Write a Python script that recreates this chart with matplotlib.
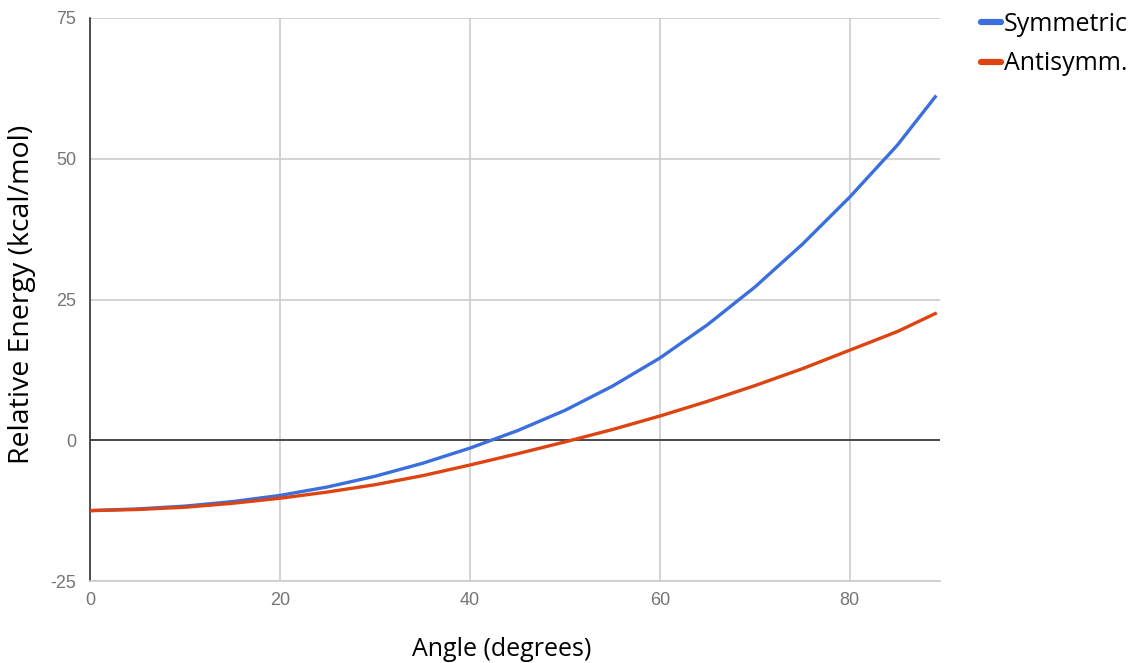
import numpy as np
import matplotlib

matplotlib.use("Agg")
import matplotlib.pyplot as plt

plt.rcParams["axes.unicode_minus"] = False

# angle (degrees) and relative energy (kcal/mol)
angle = [0, 5, 10, 15, 20, 25, 30, 35, 40, 45, 50, 55, 60, 65, 70, 75, 80, 85, 89]
symmetric = [-12.5, -12.2, -11.7, -10.9, -9.8, -8.3, -6.4, -4.1, -1.4, 1.7,
             5.3, 9.6, 14.6, 20.5, 27.2, 34.8, 43.2, 52.4, 61.0]
antisymm = [-12.5, -12.3, -11.9, -11.2, -10.3, -9.2, -7.9, -6.3, -4.4, -2.4,
            -0.3, 1.9, 4.3, 6.9, 9.7, 12.7, 16.0, 19.3, 22.5]

x_ticks = [0, 20, 40, 60, 80]
y_ticks = [-25, 0, 25, 50, 75]

W, H = 1131, 663
fig = plt.figure(figsize=(W / 100, H / 100), dpi=100)
ax = fig.add_axes([90 / W, (H - 581) / H, 850 / W, 563 / H])

ax.set_xlim(0, 89.5)
ax.set_ylim(-25, 75)
ax.set_xticks(x_ticks)
ax.set_yticks(y_ticks)
ax.grid(True, color="#cccccc", linewidth=1.2)
ax.set_axisbelow(True)
ax.axhline(0, color="#333333", linewidth=1.2, zorder=1)

for s in ["top", "right"]:
    ax.spines[s].set_visible(False)
ax.spines["bottom"].set_color("#cccccc")
ax.spines["bottom"].set_linewidth(1.2)
ax.spines["left"].set_color("#333333")
ax.spines["left"].set_linewidth(1.2)
ax.tick_params(axis="y", length=0, labelsize=13, labelcolor="#757575", pad=10)
ax.tick_params(axis="x", length=0, labelsize=13, labelcolor="#757575", pad=8)
for lab in ax.get_xticklabels() + ax.get_yticklabels():
    lab.set_family("Liberation Sans")

l1, = ax.plot(angle, symmetric, color="#3a6fdc", linewidth=2.4, label="Symmetric", zorder=3)
l2, = ax.plot(angle, antisymm, color="#dd4411", linewidth=2.4, label="Antisymm.", zorder=3)

fig.text(502 / W, 1 - 650 / H, "Angle (degrees)", ha="center", va="center",
         family="Open Sans", size=18)
fig.text(22 / W, 1 - 294 / H, "Relative Energy (kcal/mol)", ha="center", va="center",
         rotation=90, family="Open Sans", size=20.5)

leg = fig.legend(handles=[l1, l2], loc="upper left", bbox_to_anchor=(971 / W, 1 - 2 / H),
                 frameon=False, prop={"family": "Open Sans", "size": 18},
                 handlelength=0.8, handletextpad=0.1, labelspacing=0.58, borderaxespad=0)
for h in leg.get_lines():
    h.set_linewidth(4.5)
    h.set_solid_capstyle("round")

fig.savefig("out.png", dpi=100)
